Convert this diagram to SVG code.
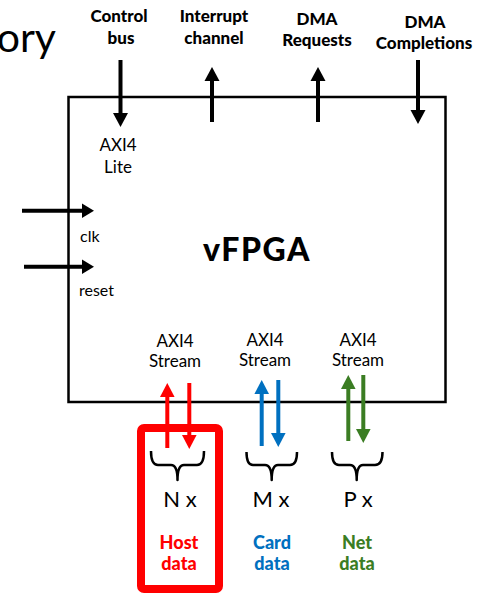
<svg xmlns="http://www.w3.org/2000/svg" width="490" height="595" viewBox="0 0 490 595">
<defs>
<style>
text{font-family:Lato,"Open Sans","Liberation Sans",sans-serif;fill:#000}
.lbl{font-size:17px;font-weight:900;text-anchor:middle}
.reg{font-size:17px;text-anchor:middle}
.sm{font-size:16px}
.mult{font-size:22px;text-anchor:middle}
.col{font-size:18px;font-weight:900;text-anchor:middle}
.k{stroke:#000;stroke-width:4;fill:none}
.r{stroke:#ff0000;stroke-width:4;fill:none}
.b{stroke:#0070c0;stroke-width:4;fill:none}
.g{stroke:#3b7d23;stroke-width:4;fill:none}
.brace{stroke:#000;stroke-width:2.5;fill:none;stroke-linejoin:round}
</style>
</defs>
<rect width="490" height="595" fill="#fff"/>
<text x="56" y="52" style="font-size:41px;text-anchor:end">ory</text>

<g id="labels-top">
<text class="lbl" x="119" y="22">Control</text>
<text class="lbl" x="121" y="44">bus</text>
<text class="lbl" x="214" y="22">Interrupt</text>
<text class="lbl" x="214" y="44">channel</text>
<text class="lbl" x="317" y="25">DMA</text>
<text class="lbl" x="317" y="46">Requests</text>
<text class="lbl" x="425" y="28">DMA</text>
<text class="lbl" x="424" y="49">Completions</text>
</g>

<g id="vfpga">
<rect x="68.5" y="97" width="377" height="305" fill="none" stroke="#000" stroke-width="2.5"/>
<text x="257" y="261" style="font-size:32px;font-weight:900;text-anchor:middle;letter-spacing:1.5px">vFPGA</text>
<text class="reg" x="118" y="151">AXI4</text>
<text class="reg" x="118" y="173">Lite</text>
<text class="sm" x="80" y="242">clk</text>
<text class="sm" x="79" y="296">reset</text>
<text class="reg" x="175" y="347">AXI4</text>
<text class="reg" x="175" y="367">Stream</text>
<text class="reg" x="265" y="346">AXI4</text>
<text class="reg" x="265" y="366">Stream</text>
<text class="reg" x="358" y="346">AXI4</text>
<text class="reg" x="358" y="366">Stream</text>
</g>

<g id="host-group">
<rect x="141" y="428" width="78" height="161" rx="3" fill="none" stroke="#ff0000" stroke-width="8"/>
<text class="mult" x="180" y="507">N x</text>
<text class="col" x="179" y="549" style="fill:#ff0000">Host</text>
<text class="col" x="179" y="570" style="fill:#ff0000">data</text>
</g>
<g id="card-group">
<text class="mult" x="271" y="507">M x</text>
<text class="col" x="272" y="549" style="fill:#0070c0">Card</text>
<text class="col" x="272" y="570" style="fill:#0070c0">data</text>
</g>
<g id="net-group">
<text class="mult" x="358" y="507">P x</text>
<text class="col" x="357" y="549" style="fill:#3b7d23">Net</text>
<text class="col" x="357" y="570" style="fill:#3b7d23">data</text>
</g>

<g id="connectors">
<line class="k" x1="120.5" y1="60" x2="120.5" y2="114"/>
<polygon points="113,113 128,113 120.5,127"/>
<line class="k" x1="212" y1="80" x2="212" y2="122"/>
<polygon points="204.5,81 219.5,81 212,67"/>
<line class="k" x1="318" y1="80" x2="318" y2="122"/>
<polygon points="310.5,81 325.5,81 318,67"/>
<line class="k" x1="418" y1="60" x2="418" y2="111"/>
<polygon points="410.5,110 425.5,110 418,124"/>
<line class="k" x1="22" y1="210.7" x2="83" y2="210.7"/>
<polygon points="82,203.5 82,218 94,210.7"/>
<line class="k" x1="24" y1="266.7" x2="83" y2="266.7"/>
<polygon points="82,259.5 82,274 94,266.7"/>
<line class="r" x1="167.3" y1="396" x2="167.3" y2="448"/>
<polygon fill="#ff0000" points="160,397 174.6,397 167.3,383"/>
<line class="r" x1="189.3" y1="383" x2="189.3" y2="436"/>
<polygon fill="#ff0000" points="182,435 196.6,435 189.3,449"/>
<line class="b" x1="261.7" y1="393" x2="261.7" y2="446"/>
<polygon fill="#0070c0" points="254.4,394 269,394 261.7,380"/>
<line class="b" x1="278.3" y1="380" x2="278.3" y2="434"/>
<polygon fill="#0070c0" points="271,433 285.6,433 278.3,447"/>
<line class="g" x1="348.3" y1="388" x2="348.3" y2="441"/>
<polygon fill="#3b7d23" points="341,389 355.6,389 348.3,375"/>
<line class="g" x1="363.3" y1="375" x2="363.3" y2="430"/>
<polygon fill="#3b7d23" points="356,429 370.6,429 363.3,443"/>
<path class="brace" d="M151,451 Q151,465 158,465 H171 Q177.5,465 177.5,480 Q177.5,465 184,465 H197 Q204,465 204,451"/>
<path class="brace" d="M246.5,452 Q246.5,465 253,465 H265 Q271.7,465 271.7,480 Q271.7,465 278,465 H290 Q297,465 297,452"/>
<path class="brace" d="M332,452 Q332,465 339,465 H350 Q356.7,465 356.7,480 Q356.7,465 363,465 H375 Q382.5,465 382.5,452"/>
</g>
</svg>
